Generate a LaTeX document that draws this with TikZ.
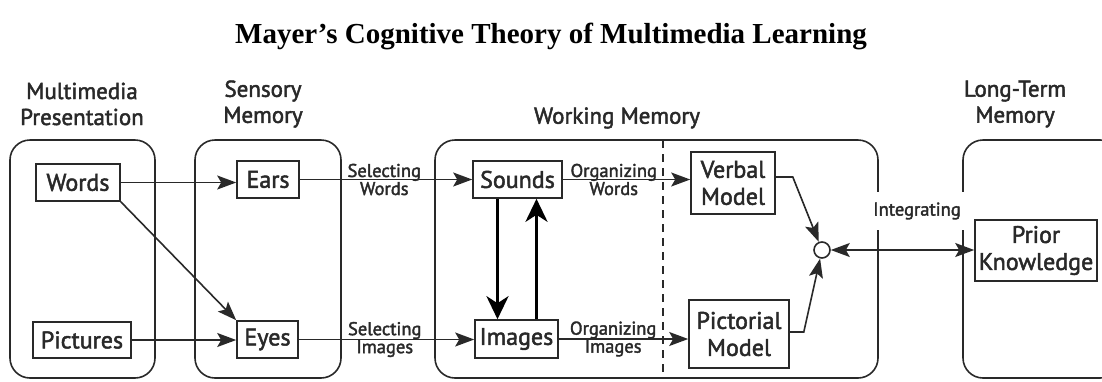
\documentclass[tikz,border=0pt]{standalone}
\usepackage{fontspec}
\setmainfont{PT Sans}
\newfontfamily\sansb{PT Sans}[FakeBold=2]
\newfontfamily\titlefont{Liberation Serif}
\usetikzlibrary{arrows.meta,calc}
\definecolor{ink}{gray}{0.16}
\begin{document}
\begin{tikzpicture}[x=1pt,y=-1pt,
  region/.style={draw=ink, line width=1.6pt, rounded corners=20pt, inner sep=0pt, minimum height=238pt},
  item/.style={draw=ink, line width=1.6pt, inner sep=0pt, text=ink, font=\sansb\fontsize{24}{27}\selectfont, align=center},
  head/.style={text=ink, font=\sansb\fontsize{23}{26}\selectfont, align=center, inner sep=0pt},
  lbl/.style={text=ink, font=\sansb\fontsize{18.5}{18}\selectfont, align=center, inner sep=0pt},
  tip/.tip={Stealth[length=19pt,width=14pt,inset=4pt]},
  arr/.style={draw=ink, line width=1.6pt, -tip},
  arrtwo/.style={draw=ink, line width=1.6pt, tip-tip},
  thickarr/.style={draw=black, line width=3.4pt, -{Stealth[length=23pt,width=22pt,inset=7pt]}}
]
\clip (0,0) rectangle (1102,381);
\fill[white] (0,0) rectangle (1102,381);

\node[text=black, font=\titlefont\bfseries\fontsize{29}{32}\selectfont, inner sep=0pt] (title) at (551,36) {Mayer’s Cognitive Theory of Multimedia Learning};

% headings
\node[head] (hmp) at (82,104) {Multimedia\\Presentation};
\node[head] (hsm) at (263,104) {Sensory\\Memory};
\node[head] (hwm) at (617,118) {Working Memory};
\node[head] (hltm) at (1015,104) {Long-Term\\Memory};

% regions
\node[region, minimum width=145pt] (mp) at (82.5,259) {};
\node[region, minimum width=146pt] (sm) at (268,259) {};
\node[region, minimum width=443pt] (wm) at (656.5,259) {};
\node[region, minimum width=157pt] (ltm) at (1041.5,259) {};

% dashed divider
\coordinate (dtop) at (663,140);
\coordinate (dbot) at (663,378);
\draw[ink, line width=1.6pt, dash pattern=on 8pt off 6pt] (dtop) -- (dbot);

% items
\node[item, minimum width=84pt, minimum height=37pt] (words) at (78,182.5) {Words};
\node[item, minimum width=98pt, minimum height=36pt] (pictures) at (82,340) {Pictures};
\node[item, minimum width=62pt, minimum height=37pt] (ears) at (268,179.5) {Ears};
\node[item, minimum width=61pt, minimum height=37pt] (eyes) at (267.5,339.5) {Eyes};
\node[item, minimum width=89pt, minimum height=37pt] (sounds) at (517.5,179.5) {Sounds};
\node[item, minimum width=83pt, minimum height=38pt] (images) at (516.5,339) {Images};
\node[item, minimum width=84pt, minimum height=62pt] (verbal) at (733,183) {Verbal\\Model};
\node[item, minimum width=100pt, minimum height=68pt] (pictorial) at (739,334) {Pictorial\\Model};
\node[item, minimum width=122pt, minimum height=61pt] (prior) at (1036,250.5) {Prior\\Knowledge};
\node[draw=ink, line width=1.6pt, circle, minimum size=16pt, inner sep=0pt, fill=white] (circ) at (822,250) {};

% label that interrupts the borders
\node[lbl, fill=white, minimum height=38pt, inner xsep=3pt] (integ) at (917,211) {Integrating};

% connectors
\draw[arr] (words.east) -- (words.east -| ears.west);
\draw[arr] (words.south east) -- (eyes.north west);
\draw[arr] (pictures.east) -- (pictures.east -| eyes.west);
\draw[arr] (ears.east) -- (ears.east -| sounds.west) node[lbl, pos=0.49] (selw) {Selecting\\Words};
\draw[arr] (eyes.east) -- (eyes.east -| images.west) node[lbl, pos=0.49] (seli) {Selecting\\Images};
\draw[arr] (sounds.east) -- (sounds.east -| verbal.west) node[lbl, pos=0.4] (orgw) {Organizing\\Words};
\draw[arr] (images.east) -- (images.east -| pictorial.west) node[lbl, pos=0.42] (orgi) {Organizing\\Images};

\coordinate (dn) at ([xshift=-20pt]sounds.south);
\coordinate (up) at ([xshift=20pt]images.north);
\draw[thickarr] (dn) -- (dn |- images.north);
\draw[thickarr] (up) -- (up |- sounds.south);

\draw[arr] ([yshift=6pt]verbal.east) -- ++(17,0) -- (circ);
\draw[arr] ([yshift=2pt]pictorial.east) -- ++(14,0) -- (circ);
\draw[arrtwo] (circ) -- (circ -| prior.west);
\end{tikzpicture}
\end{document}
